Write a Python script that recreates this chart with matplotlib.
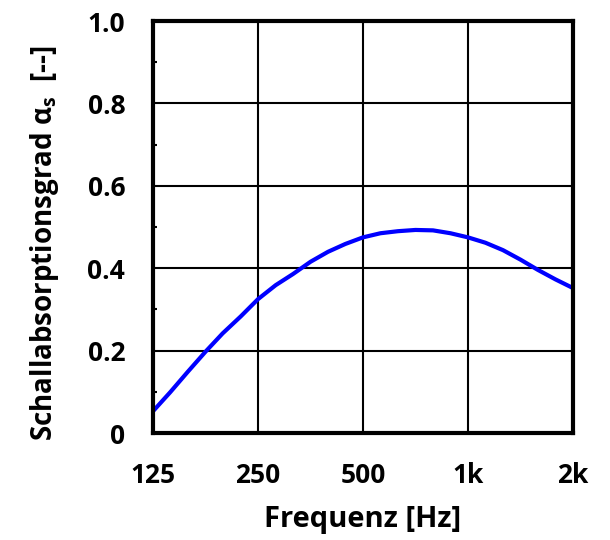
import numpy as np
import matplotlib
matplotlib.use("Agg")
import matplotlib.pyplot as plt
from matplotlib.ticker import FixedLocator, NullFormatter

plt.rcParams['font.family'] = ['Open Sans', 'DejaVu Sans']
plt.rcParams['font.weight'] = 'bold'
plt.rcParams['mathtext.fontset'] = 'custom'
plt.rcParams['mathtext.rm'] = 'Open Sans:bold'
plt.rcParams['mathtext.it'] = 'Open Sans'

# 1/6-octave frequencies and absorption values
freq = [125, 140, 157, 177, 198, 223, 250, 281, 315, 354, 397, 445, 500,
        561, 630, 707, 794, 891, 1000, 1122, 1260, 1414, 1587, 1782, 2000]
alpha = [0.053, 0.099, 0.148, 0.198, 0.242, 0.283, 0.325, 0.359, 0.386,
         0.416, 0.440, 0.459, 0.475, 0.485, 0.490, 0.493, 0.492, 0.485,
         0.475, 0.462, 0.444, 0.421, 0.396, 0.373, 0.352]

xticks = [125, 250, 500, 1000, 2000]
xticklabels = ["125", "250", "500", "1k", "2k"]
yticks = [0, 0.2, 0.4, 0.6, 0.8, 1.0]
yticklabels = ["0", "0.2", "0.4", "0.6", "0.8", "1.0"]

fig = plt.figure(figsize=(6.1, 5.4), dpi=100)
ax = fig.add_axes([0.2508, 0.198, 0.6885, 0.763])

ax.plot(freq, alpha, color="#0000ff", lw=3, solid_capstyle="butt", zorder=3)

ax.set_xscale("log")
ax.set_xlim(125, 2000)
ax.set_ylim(0, 1)
ax.xaxis.set_major_locator(FixedLocator(xticks))
ax.set_xticklabels(xticklabels)
ax.xaxis.set_minor_locator(FixedLocator([]))
ax.xaxis.set_minor_formatter(NullFormatter())
ax.set_yticks(yticks)
ax.set_yticklabels(yticklabels)
ax.yaxis.set_minor_locator(FixedLocator([0.1, 0.3, 0.5, 0.7, 0.9]))

ax.grid(True, which="major", color="black", lw=1.5)
ax.tick_params(axis="both", which="major", length=0, labelsize=19)
ax.tick_params(axis="x", which="major", pad=21)
ax.tick_params(axis="y", which="major", pad=20)
ax.tick_params(axis="y", which="minor", direction="in", length=3, width=1.5)
for s in ax.spines.values():
    s.set_linewidth(3)
    s.set_zorder(4)

ax.set_xlabel("Frequenz [Hz]", fontsize=21, fontweight="bold")
ax.xaxis.set_label_coords(0.5, -0.175)
ax.set_ylabel(r"Schallabsorptionsgrad $\alpha_s$  [--]", fontsize=20,
              fontweight="bold")
ax.yaxis.set_label_coords(-0.22, 0.462)

fig.savefig("out.png", dpi=100)
